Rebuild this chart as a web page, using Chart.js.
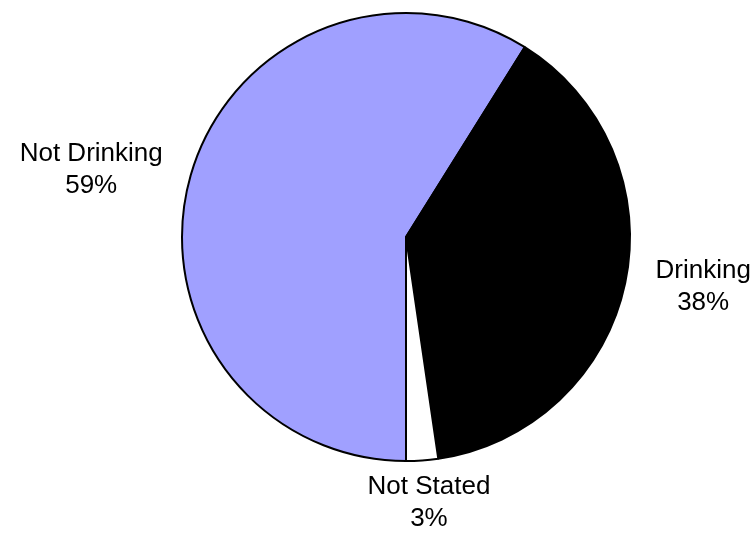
<!DOCTYPE html>
<html>
<head>
<meta charset="utf-8">
<script src="https://cdn.jsdelivr.net/npm/chart.js@4/dist/chart.umd.min.js"></script>
<style>
  body { margin: 0; background: #fff; }
  #wrap { width: 752px; height: 533px; }
</style>
</head>
<body>
<div id="wrap"><canvas id="myChart" width="752" height="533"></canvas></div>
<script>
const categories = ["Not Drinking", "Drinking", "Not Stated"];
const values = [58.9, 38.8, 2.3];
const percentLabels = ["59%", "38%", "3%"];
const sliceColors = ["#a0a0ff", "#000000", "#ffffff"];

// draw "Name / NN%" labels outside each slice, Excel style
const outsideLabels = {
    id: 'outsideLabels',
    afterDatasetsDraw(chart) {
        const ctx = chart.ctx;
        const meta = chart.getDatasetMeta(0);
        ctx.save();
        ctx.font = '26px "Liberation Sans", Arial, sans-serif';
        ctx.fillStyle = '#000';
        ctx.textAlign = 'center';
        ctx.textBaseline = 'middle';
        const lineH = 32;
        meta.data.forEach((arc, i) => {
            const mid = (arc.startAngle + arc.endAngle) / 2;
            const ux = Math.cos(mid), uy = Math.sin(mid);
            const lines = [categories[i], percentLabels[i]];
            const w = Math.max(...lines.map(t => ctx.measureText(t).width));
            const h = lineH * lines.length;
            const x = arc.x + (arc.outerRadius + 32 + w / 2) * ux;
            const y = arc.y + (arc.outerRadius + 11) * uy + (h / 2) * uy * Math.abs(uy);
            lines.forEach((t, k) => {
                ctx.fillText(t, x, y + (k - (lines.length - 1) / 2) * lineH);
            });
        });
        ctx.restore();
    }
};

const ctx = document.getElementById('myChart').getContext('2d');
const myChart = new Chart(ctx, {
    type: 'pie',
    data: {
        labels: categories,
        datasets: [{
            data: values,
            backgroundColor: sliceColors,
            borderColor: '#000',
            borderWidth: 2
        }]
    },
    options: {
        responsive: false,
        animation: false,
        rotation: 180,
        layout: { padding: { left: 181, right: 121, top: 12, bottom: 71 } },
        plugins: {
            legend: { display: false },
            tooltip: { enabled: false }
        }
    },
    plugins: [outsideLabels]
});
</script>
</body>
</html>
